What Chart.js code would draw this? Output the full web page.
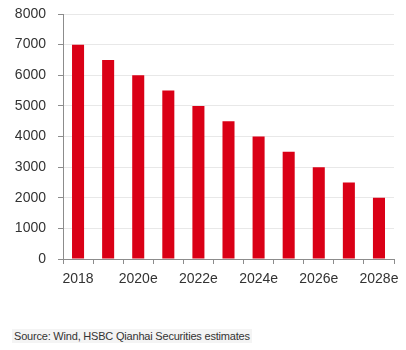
<!DOCTYPE html>
<html>
<head>
<meta charset="utf-8">
<script src="https://cdn.jsdelivr.net/npm/chart.js@4/dist/chart.umd.min.js"></script>
<style>
    html, body { margin: 0; padding: 0; background: #fff; }
    #wrap { position: relative; width: 406px; height: 300px; }
    #source {
        position: absolute;
        left: 12px;
        top: 329px;
        padding: 1px 2px;
        font: 11px "Liberation Sans", Arial, sans-serif;
        color: #333;
        background: #f4f4f4;
        letter-spacing: -0.2px;
    }
</style>
</head>
<body>
<div id="wrap"><canvas id="chart" width="406" height="300"></canvas></div>
<div id="source">Source: Wind, HSBC Qianhai Securities estimates</div>
<script>
const YEARS  = ['2018', '2019e', '2020e', '2021e', '2022e', '2023e', '2024e', '2025e', '2026e', '2027e', '2028e'];
const VALUES = [7000, 6500, 6000, 5500, 5000, 4500, 4000, 3500, 3000, 2500, 2000];
const Y_MIN  = 0;
const Y_MAX  = 8000;
const Y_STEP = 1000;

const AXIS_GREY = '#8c8c8c';
const FONT      = { family: '"Liberation Sans", Arial, sans-serif', size: 14 };

new Chart(document.getElementById('chart'), {
    type: 'bar',
    data: {
        labels: YEARS,
        datasets: [{
            data:               VALUES,
            backgroundColor:    '#DA0016',
            borderWidth:        0,
            categoryPercentage: 1,
            barPercentage:      0.4,
        }],
    },
    options: {
        responsive: false,
        animation:  false,
        layout:     { padding: { top: 14, right: 12, left: 0, bottom: 0 } },
        plugins:    { legend: { display: false }, tooltip: { enabled: false } },
        scales: {
            x: {
                grid: {
                    offset:          true,
                    drawOnChartArea: false,
                    drawTicks:       true,
                    tickLength:      5,
                    tickColor:       AXIS_GREY,
                },
                border: { color: AXIS_GREY, width: 1 },
                ticks: {
                    color:       '#333',
                    font:        FONT,
                    padding:     7,
                    autoSkip:    false,
                    maxRotation: 0,
                    callback:    (v, i) => i % 2 === 0 ? YEARS[i] : '',
                },
                afterFit: s => {
                    s.height = 41;
                    s.paddingLeft = 0;
                    s.paddingRight = 0;
                },
            },
            y: {
                min: Y_MIN,
                max: Y_MAX,
                grid: {
                    color:      '#e8e8e8',
                    tickLength: 5,
                    tickColor:  AXIS_GREY,
                },
                border: { color: AXIS_GREY, width: 1 },
                ticks: {
                    stepSize: Y_STEP,
                    color:    '#333',
                    font:     FONT,
                    padding:  12,
                    callback: v => String(v),
                },
                afterFit: s => {
                    s.width = 63;
                    s.paddingTop = 0;
                    s.paddingBottom = 0;
                },
            },
        },
    },
});
</script>
</body>
</html>
